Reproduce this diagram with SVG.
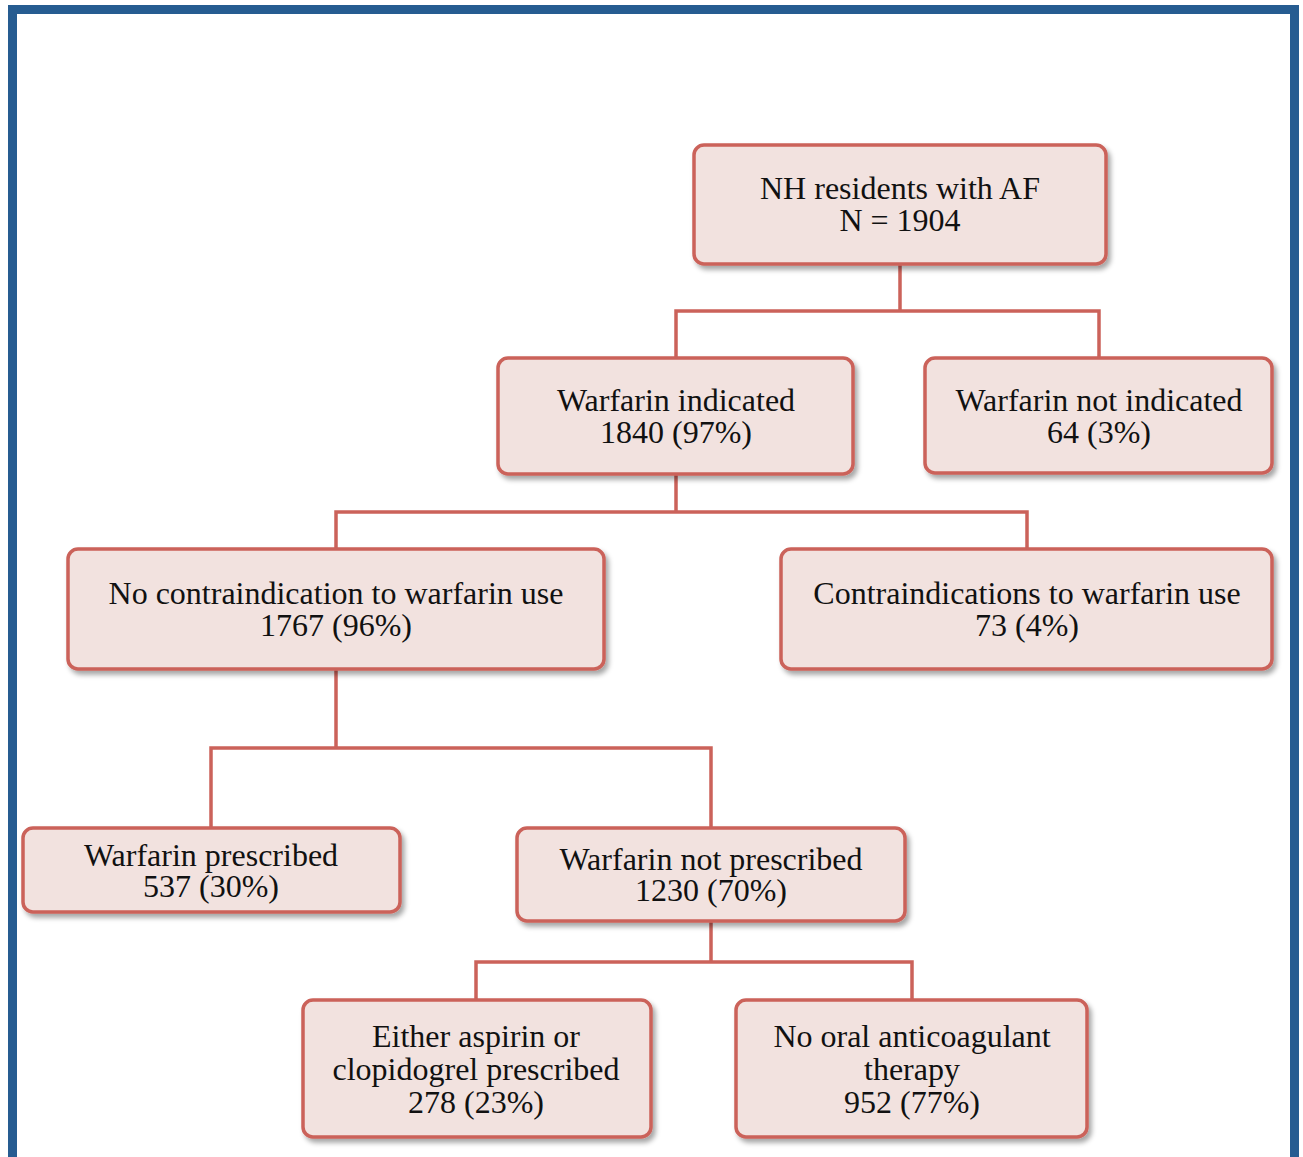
<svg xmlns="http://www.w3.org/2000/svg" width="1303" height="1157" viewBox="0 0 1303 1157">
<defs>
<filter id="sh" x="-10%" y="-10%" width="130%" height="140%">
<feDropShadow dx="3" dy="4" stdDeviation="2.5" flood-color="#000" flood-opacity="0.35"/>
</filter>
</defs>
<style>
.box{fill:#f2e2df;stroke:#cb625a;stroke-width:3.5;filter:url(#sh)}
.ln{fill:none;stroke:#cb625a;stroke-width:3.5}
text{font-family:"Liberation Serif","Times New Roman",serif;font-size:32px;fill:#111;text-anchor:middle}
</style>
<rect x="0" y="0" width="1303" height="1157" fill="#fff"/>
<rect x="12.5" y="9.5" width="1282" height="1152" fill="#fff" stroke="#265c91" stroke-width="9"/>
<g id="connectors">
<path class="ln" d="M900 264V311M676 358V311H1099V358"/>
<path class="ln" d="M676 473V512M336 549V512H1027V549"/>
<path class="ln" d="M336 669V748M211 828V748H711V828"/>
<path class="ln" d="M711 921V962M476 1000V962H912V1000"/>
</g>
<g id="n1"><rect class="box" x="694" y="145" width="412" height="119" rx="10"/><text x="900" y="199">NH residents with AF</text><text x="900" y="231">N = 1904</text></g>
<g id="n2"><rect class="box" x="498" y="358" width="355" height="116" rx="10"/><text x="676" y="411">Warfarin indicated</text><text x="676" y="443">1840 (97%)</text></g>
<g id="n3"><rect class="box" x="925" y="358" width="347" height="115" rx="10"/><text x="1099" y="411">Warfarin not indicated</text><text x="1099" y="443">64 (3%)</text></g>
<g id="n4"><rect class="box" x="68" y="549" width="536" height="120" rx="10"/><text x="336" y="604">No contraindication to warfarin use</text><text x="336" y="636">1767 (96%)</text></g>
<g id="n5"><rect class="box" x="781" y="549" width="491" height="120" rx="10"/><text x="1027" y="604">Contraindications to warfarin use</text><text x="1027" y="636">73 (4%)</text></g>
<g id="n6"><rect class="box" x="23" y="828" width="377" height="84" rx="10"/><text x="211" y="866">Warfarin prescribed</text><text x="211" y="897">537 (30%)</text></g>
<g id="n7"><rect class="box" x="517" y="828" width="388" height="93" rx="10"/><text x="711" y="870">Warfarin not prescribed</text><text x="711" y="901">1230 (70%)</text></g>
<g id="n8"><rect class="box" x="303" y="1000" width="348" height="137" rx="10"/><text x="476" y="1047">Either aspirin or</text><text x="476" y="1080">clopidogrel prescribed</text><text x="476" y="1113">278 (23%)</text></g>
<g id="n9"><rect class="box" x="736" y="1000" width="351" height="137" rx="10"/><text x="912" y="1047">No oral anticoagulant</text><text x="912" y="1080">therapy</text><text x="912" y="1113">952 (77%)</text></g>
</svg>
